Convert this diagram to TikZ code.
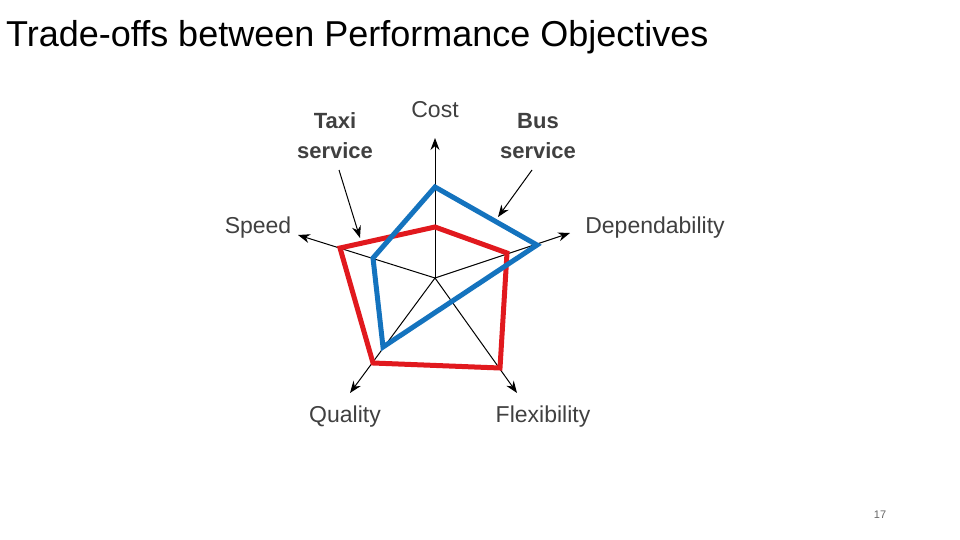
\documentclass[tikz,border=0pt]{standalone}
\usepackage{fontspec}
\setmainfont{Liberation Sans}
\usetikzlibrary{arrows.meta}
\begin{document}
\begin{tikzpicture}[x=1pt,y=-1pt,
 ax/.style={-{Stealth[length=12pt,width=9pt]},line width=1pt},
 lab/.style={font=\fontsize{23}{26}\selectfont,color=black!75,inner sep=0pt},
 blab/.style={font=\fontsize{22}{30}\selectfont\bfseries,color=black!75,align=center,inner sep=0pt},
 bus/.style={line width=5pt,color={rgb,255:red,20;green,115;blue,190},line join=miter},
 taxi/.style={line width=5pt,color={rgb,255:red,225;green,25;blue,30},line join=miter}]
\useasboundingbox (0,0) rectangle (960,540);
\node[anchor=west,font=\fontsize{36}{40}\selectfont,inner sep=0pt] (title) at (6,37) {Trade-offs between Performance Objectives};
\coordinate (O) at (435,278);
\coordinate (cT) at (435,138);
\coordinate (sT) at (298,235);
\coordinate (dT) at (570,233);
\coordinate (qT) at (350,393);
\coordinate (fT) at (517,393);
\foreach \t in {cT,sT,dT,qT,fT} \draw[ax] (O) -- (\t);
\draw[taxi] (435,227) -- (507,253) -- (500,368) -- (373,363) -- (340,248) -- cycle;
\draw[bus] (435,187) -- (537,245) -- (383,347) -- (373,258) -- cycle;
\node[lab] (cost) at (435,110) {Cost};
\node[lab] (speed) at (258,228) {Speed};
\node[lab] (dep) at (655,228) {Dependability};
\node[lab] (qual) at (345,417) {Quality};
\node[lab] (flex) at (543,417) {Flexibility};
\node[blab] (taxiL) at (335,136) {Taxi\\service};
\node[blab] (busL) at (538,136) {Bus\\service};
\coordinate (taxiT) at (360,238);
\coordinate (busT) at (498,217);
\draw[ax] (339,170) -- (taxiT);
\draw[ax] (532,170) -- (busT);
\node[font=\fontsize{11}{12}\selectfont,color=black!60] (pg) at (880,515) {17};
\end{tikzpicture}
\end{document}
